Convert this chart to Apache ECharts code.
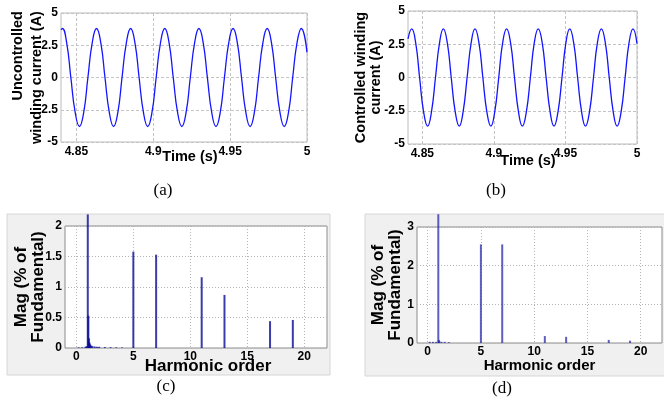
<!DOCTYPE html>
<html>
<head>
<meta charset="utf-8">
<script src="https://cdn.jsdelivr.net/npm/echarts@6/dist/echarts.min.js"></script>
<style>
html, body { margin: 0; padding: 0; background: #fff; }
#main { width: 664px; height: 408px; }
</style>
</head>
<body>
<div id="main"></div>
<script>
var myChart = echarts.init(document.getElementById('main'));

// (a) uncontrolled winding current - peaks, zero crossings and mid points
var timeA = [
    4.8400, 4.8409, 4.8437, 4.8464, 4.8492, 4.8520, 4.8548, 4.8575, 4.8603,
    4.8631, 4.8659, 4.8686, 4.8714, 4.8742, 4.8770, 4.8797, 4.8825,
    4.8853, 4.8881, 4.8908, 4.8936, 4.8964, 4.8992, 4.9019, 4.9047,
    4.9075, 4.9103, 4.9130, 4.9158, 4.9186, 4.9214, 4.9241, 4.9269,
    4.9297, 4.9325, 4.9352, 4.9380, 4.9408, 4.9436, 4.9463, 4.9491,
    4.9519, 4.9547, 4.9574, 4.9602, 4.9630, 4.9658, 4.9685, 4.9713,
    4.9741, 4.9769, 4.9796, 4.9824, 4.9852, 4.9880, 4.9907, 4.9935,
    4.9963, 5.0000
];
var currentA = [
    3.70, 3.80, 2.69, 0, -2.69, -3.80, -2.69, 0, 2.69,
    3.80, 2.69, 0, -2.69, -3.80, -2.69, 0, 2.69,
    3.80, 2.69, 0, -2.69, -3.80, -2.69, 0, 2.69,
    3.80, 2.69, 0, -2.69, -3.80, -2.69, 0, 2.69,
    3.80, 2.69, 0, -2.69, -3.80, -2.69, 0, 2.69,
    3.80, 2.69, 0, -2.69, -3.80, -2.69, 0, 2.69,
    3.80, 2.69, 0, -2.69, -3.80, -2.69, 0, 2.69,
    3.80, 1.95
];

// (b) controlled winding current
var timeB = [
    4.8400, 4.8426, 4.8454, 4.8481, 4.8509, 4.8537, 4.8564, 4.8592, 4.8620,
    4.8647, 4.8675, 4.8702, 4.8730, 4.8758, 4.8785, 4.8813, 4.8841,
    4.8868, 4.8896, 4.8923, 4.8951, 4.8979, 4.9006, 4.9034, 4.9061,
    4.9089, 4.9117, 4.9144, 4.9172, 4.9199, 4.9227, 4.9255, 4.9282,
    4.9310, 4.9338, 4.9365, 4.9393, 4.9420, 4.9448, 4.9476, 4.9503,
    4.9530, 4.9558, 4.9585, 4.9613, 4.9640, 4.9668, 4.9696, 4.9723,
    4.9751, 4.9779, 4.9806, 4.9834, 4.9861, 4.9889, 4.9917, 4.9944,
    4.9972, 5.0000
];
var currentB = [
    2.90, 3.65, 2.58, 0, -2.58, -3.65, -2.58, 0, 2.58,
    3.65, 2.58, 0, -2.58, -3.65, -2.58, 0, 2.58,
    3.65, 2.58, 0, -2.58, -3.65, -2.58, 0, 2.58,
    3.65, 2.58, 0, -2.58, -3.65, -2.58, 0, 2.58,
    3.65, 2.58, 0, -2.58, -3.65, -2.58, 0, 2.58,
    3.65, 2.58, 0, -2.58, -3.65, -2.58, 0, 2.58,
    3.65, 2.58, 0, -2.58, -3.65, -2.58, 0, 2.58,
    3.65, 2.55
];

// (c) spectrum of uncontrolled winding current (fundamental shown as far as it is visible)
var orderC = [0.2, 0.5, 0.8, 0.9, 1.0, 1.05, 1.1, 1.15, 1.2, 1.3, 1.4, 1.6, 1.8, 2.0, 2.5, 3.0, 3.5, 4.0, 5, 7, 11, 13, 17, 19];
var magC = [0.01, 0.01, 0.02, 0.03, 2.19, 0.53, 0.16, 0.09, 0.06, 0.04, 0.03, 0.025, 0.02, 0.02, 0.015, 0.012, 0.01, 0.008, 1.58, 1.53, 1.16, 0.87, 0.44, 0.46];

// (d) spectrum of controlled winding current
var orderD = [0.2, 0.5, 0.8, 1.0, 1.05, 1.1, 1.3, 1.6, 2.0, 5, 7, 11, 13, 17, 19];
var magD = [0.03, 0.03, 0.03, 3.33, 0.08, 0.05, 0.03, 0.03, 0.02, 2.55, 2.55, 0.18, 0.16, 0.08, 0.06];

var timeTicks = [4.85, 4.9, 4.95, 5];
var orderTicks = [0, 5, 10, 15, 20];

function pairs(xs, ys) {
    var res = [];
    for (var i = 0; i < xs.length; i++) {
        res.push([xs[i], ys[i]]);
    }
    return res;
}

var tickFont = {
    fontFamily: 'Liberation Sans',
    fontWeight: 'bold',
    fontSize: 12,
    color: '#000'
};

function titleFont(size, lh, extra) {
    var s = {
        fontFamily: 'Liberation Sans',
        fontWeight: 'bold',
        fontSize: size,
        color: '#000',
        lineHeight: lh
    };
    for (var k in extra) s[k] = extra[k];
    return s;
}

function timeAxis(idx, gap, pad) {
    return {
        gridIndex: idx,
        type: 'value',
        min: 4.84,
        max: 5,
        axisLine: { show: false },
        axisTick: { show: false, customValues: timeTicks },
        axisLabel: Object.assign({ customValues: timeTicks, margin: 4 }, tickFont),
        splitLine: { show: true, lineStyle: { color: '#c4c4c4', type: [3, 2] } },
        name: 'Time (s)',
        nameLocation: 'middle',
        nameGap: gap,
        nameMoveOverlap: false,
        nameTextStyle: titleFont(14.5, 14.5, { padding: pad })
    };
}

function currentAxis(idx, name, gap, lh) {
    var style = titleFont(14.5, lh, {});
    // lines of the (a) label end flush at the top
    style.rich = { r: titleFont(14.5, lh, { align: 'right' }) };
    return {
        gridIndex: idx,
        type: 'value',
        min: -5,
        max: 5,
        interval: 2.5,
        axisLine: { show: false },
        axisTick: { show: false },
        axisLabel: Object.assign({ margin: 3 }, tickFont),
        splitLine: { show: true, lineStyle: { color: '#c4c4c4', type: [3, 2] } },
        name: name,
        nameLocation: 'middle',
        nameRotate: 90,
        nameGap: gap,
        nameMoveOverlap: false,
        nameTextStyle: style
    };
}

function orderAxis(idx, gap, size, pad) {
    return {
        gridIndex: idx,
        type: 'value',
        min: -1,
        max: 22,
        axisLine: { show: false },
        axisTick: { show: false, customValues: orderTicks },
        axisLabel: Object.assign({ customValues: orderTicks, margin: 3 }, tickFont),
        splitLine: { show: true, lineStyle: { color: '#b4b4b4', type: [1, 2] } },
        name: 'Harmonic order',
        nameLocation: 'middle',
        nameGap: gap,
        nameMoveOverlap: false,
        nameTextStyle: titleFont(size, size, { padding: pad })
    };
}

function magAxis(idx, max, step, gap) {
    return {
        gridIndex: idx,
        type: 'value',
        min: 0,
        max: max,
        interval: step,
        axisLine: { show: false },
        axisTick: { show: false },
        axisLabel: Object.assign({ margin: 3 }, tickFont),
        splitLine: { show: true, lineStyle: { color: '#b4b4b4', type: [1, 2] } },
        name: 'Mag (% of\nFundamental)',
        nameLocation: 'middle',
        nameRotate: 90,
        nameGap: gap,
        nameMoveOverlap: false,
        nameTextStyle: titleFont(17, 17, {})
    };
}

option = {
    backgroundColor: '#fff',
    animation: false,
    graphic: [
        { type: 'rect', z: -10, shape: { x: 7, y: 214, width: 323, height: 161 },
          style: { fill: '#f0f0f0', stroke: '#d6d6d6', lineWidth: 1 } },
        { type: 'rect', z: -10, shape: { x: 365, y: 214, width: 305, height: 162 },
          style: { fill: '#f0f0f0', stroke: '#d6d6d6', lineWidth: 1 } },
        { type: 'text', x: 163, y: 191, style: { text: '(a)', align: 'center', verticalAlign: 'middle', fontFamily: 'Liberation Serif', fontSize: 17, fill: '#000' } },
        { type: 'text', x: 496, y: 191, style: { text: '(b)', align: 'center', verticalAlign: 'middle', fontFamily: 'Liberation Serif', fontSize: 17, fill: '#000' } },
        { type: 'text', x: 166, y: 387, style: { text: '(c)', align: 'center', verticalAlign: 'middle', fontFamily: 'Liberation Serif', fontSize: 17, fill: '#000' } },
        { type: 'text', x: 502, y: 389, style: { text: '(d)', align: 'center', verticalAlign: 'middle', fontFamily: 'Liberation Serif', fontSize: 17, fill: '#000' } }
    ],
    grid: [
        { left: 61, top: 13, width: 246, height: 129, show: true, backgroundColor: '#fff', borderColor: '#bcbcbc', borderWidth: 1 },
        { left: 408, top: 11, width: 229, height: 133, show: true, backgroundColor: '#fff', borderColor: '#bcbcbc', borderWidth: 1 },
        { left: 65, top: 226, width: 262, height: 122, show: true, backgroundColor: '#fff', borderColor: '#8c8c8c', borderWidth: 1 },
        { left: 417, top: 227, width: 245, height: 116, show: true, backgroundColor: '#fff', borderColor: '#8c8c8c', borderWidth: 1 }
    ],
    xAxis: [
        timeAxis(0, 8, [0, 0, 0, 12]),
        timeAxis(1, 10, [0, 0, 0, 11]),
        orderAxis(2, 10, 17, [0, 0, 0, 24]),
        orderAxis(3, 15, 15, [0, 0, 0, 0])
    ],
    yAxis: [
        currentAxis(0, '{r|Uncontrolled}\n{r|winding current (A)}', 15, 19),
        currentAxis(1, 'Controlled winding\ncurrent (A)', 24.5, 15),
        magAxis(2, 2, 0.5, 18),
        magAxis(3, 3, 1, 13)
    ],
    series: [
        {
            type: 'line', xAxisIndex: 0, yAxisIndex: 0,
            data: pairs(timeA, currentA),
            showSymbol: false, smooth: true,
            lineStyle: { color: '#1414ff', width: 1.3 }
        },
        {
            type: 'line', xAxisIndex: 1, yAxisIndex: 1,
            data: pairs(timeB, currentB),
            showSymbol: false, smooth: true,
            lineStyle: { color: '#1414ff', width: 1.3 }
        },
        {
            type: 'bar', xAxisIndex: 2, yAxisIndex: 2,
            data: pairs(orderC, magC),
            barWidth: 2, clip: false,
            itemStyle: { color: 'rgba(10,10,150,0.8)' }
        },
        {
            type: 'bar', xAxisIndex: 3, yAxisIndex: 3,
            data: pairs(orderD, magD),
            barWidth: 2, clip: false,
            itemStyle: { color: 'rgba(40,40,170,0.75)' }
        }
    ]
};

myChart.setOption(option);
</script>
</body>
</html>
